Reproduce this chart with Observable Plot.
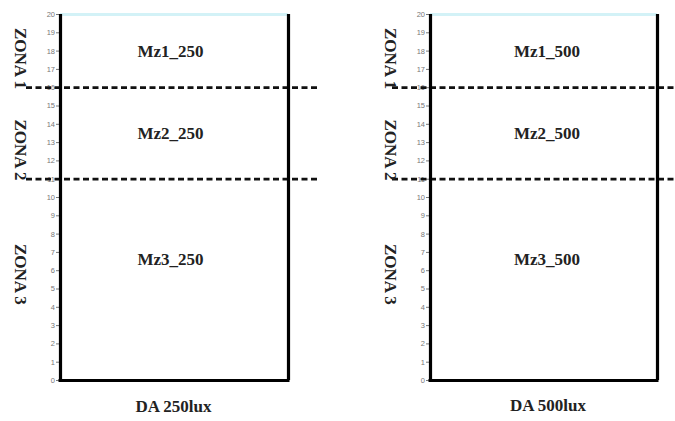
<!DOCTYPE html>
<html>
<head>
<meta charset="utf-8">
<script src="https://cdn.jsdelivr.net/npm/d3@7"></script>
<script src="https://cdn.jsdelivr.net/npm/@observablehq/plot@0.6"></script>
<style>
  html, body { margin: 0; padding: 0; background: #fff; }
  #row { display: flex; width: 675px; height: 421px; }
  svg { display: block; overflow: visible; }
</style>
</head>
<body>
<div id="row"></div>
<script>
// ---- data ----
const panelTitles = ["DA 250lux", "DA 500lux"];
const zoneBoundaries = [16, 11];
const zoneNames = ["ZONA 1", "ZONA 2", "ZONA 3"];
const zoneLabelY = [17.6, 12.6, 5.8];
const sectorLabels250 = ["Mz1_250", "Mz2_250", "Mz3_250"];
const sectorLabels500 = ["Mz1_500", "Mz2_500", "Mz3_500"];
const sectorLabelY = [18, 13.5, 6.6];
const yTicks = [0, 1, 2, 3, 4, 5, 6, 7, 8, 9, 10, 11, 12, 13, 14, 15, 16, 17, 18, 19, 20];
const yDomain = [0, 20];
const frameSides = [0, 1];

const serif = "Liberation Serif, Times New Roman, serif";

function panel(title, sectorLabels, opts) {
  const zones = zoneNames.map((z, i) => ({name: z, y: zoneLabelY[i]}));
  const sectors = sectorLabels.map((s, i) => ({name: s, y: sectorLabelY[i]}));
  return Plot.plot({
    width: opts.width,
    height: 421,
    marginTop: 14,
    marginBottom: 41,
    marginLeft: opts.marginLeft,
    marginRight: opts.marginRight,
    x: {domain: [0, 1], axis: null},
    y: {domain: yDomain},
    style: {background: "transparent", overflow: "visible"},
    marks: [
      Plot.axisY({ticks: yTicks, tickSize: 4, tickPadding: 1.5, fontSize: 7.5,
        color: "#777", label: null, fontFamily: "Liberation Sans, Arial, sans-serif"}),
      Plot.ruleY([yDomain[1]], {stroke: "#d3f2f7", strokeWidth: 3}),
      Plot.ruleY(zoneBoundaries, {stroke: "#111", strokeWidth: 2.8, strokeDasharray: "6,3.5",
        insetLeft: -opts.dashLeft, insetRight: -opts.dashRight}),
      Plot.ruleX(frameSides, {y1: yDomain[0], y2: yDomain[1], stroke: "#000", strokeWidth: 3.2}),
      Plot.ruleY([yDomain[0]], {stroke: "#000", strokeWidth: 3.2, insetLeft: -1.5, insetRight: -1.5}),
      Plot.text(sectors, {x: 0.5, y: "y", text: "name", dx: opts.sectorDx, fontSize: 17,
        fontWeight: "bold", fontFamily: serif, fill: "#222"}),
      Plot.text(zones, {frameAnchor: "left", textAnchor: "middle", y: "y", text: "name", dx: -40, rotate: 90,
        fontSize: 17, fontWeight: "bold", fontFamily: serif, fill: "#222"}),
      Plot.text([title], {frameAnchor: "bottom", x: 0.5, text: d => d, dx: opts.titleDx, dy: opts.titleDy,
        fontSize: 17, fontWeight: "bold", fontFamily: serif, fill: "#222"})
    ]
  });
}

const row = document.getElementById("row");
row.appendChild(panel(panelTitles[0], sectorLabels250,
  {width: 337, marginLeft: 60, marginRight: 49, dashLeft: 34, dashRight: 31, sectorDx: -4, titleDx: -1, titleDy: 31}));
row.appendChild(panel(panelTitles[1], sectorLabels500,
  {width: 338, marginLeft: 93, marginRight: 18, dashLeft: 38, dashRight: 18, sectorDx: 3, titleDx: 4, titleDy: 30}));
</script>
</body>
</html>
